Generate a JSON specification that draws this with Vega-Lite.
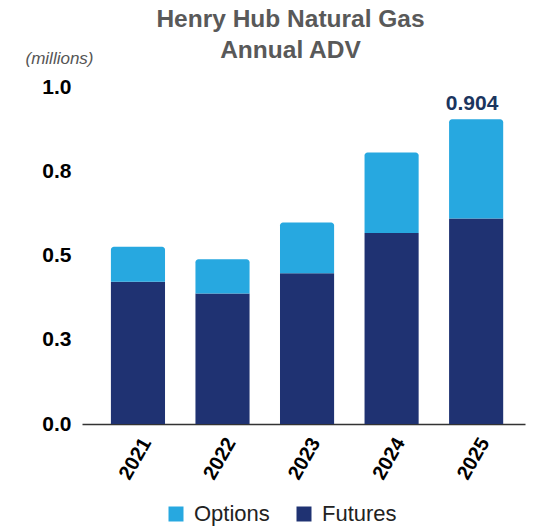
{
  "$schema": "https://vega.github.io/schema/vega-lite/v6.json",
  "width": 443,
  "height": 337,
  "autosize": "none",
  "padding": {"left": 82, "top": 87, "right": 9, "bottom": 102},
  "background": "white",
  "config": {"font": "Liberation Sans", "view": {"stroke": null}},
  "title": {
    "text": ["Henry Hub Natural Gas", "Annual ADV"],
    "fontSize": 24.5,
    "fontWeight": "bold",
    "color": "#595959",
    "lineHeight": 30.5,
    "anchor": "middle",
    "dx": -13,
    "offset": -14
  },
  "data": {
    "values": [
      {"year": "2021", "series": "Futures", "value": 0.422},
      {"year": "2021", "series": "Options", "value": 0.104},
      {"year": "2022", "series": "Futures", "value": 0.387},
      {"year": "2022", "series": "Options", "value": 0.102},
      {"year": "2023", "series": "Futures", "value": 0.447},
      {"year": "2023", "series": "Options", "value": 0.151},
      {"year": "2024", "series": "Futures", "value": 0.567},
      {"year": "2024", "series": "Options", "value": 0.239},
      {"year": "2025", "series": "Futures", "value": 0.610},
      {"year": "2025", "series": "Options", "value": 0.294}
    ]
  },
  "transform": [
    {"stack": "value", "groupby": ["year"], "sort": [{"field": "series", "order": "ascending"}], "as": ["v0", "v1"]}
  ],
  "encoding": {
    "x": {
      "field": "year",
      "type": "nominal",
      "scale": {"paddingInner": 0.36, "paddingOuter": 0.3, "align": 0.57},
      "axis": {
        "title": null,
        "labelAngle": -60,
        "labelAlign": "right",
        "labelBaseline": "top",
        "labelFontSize": 20,
        "labelFontWeight": "bold",
        "labelColor": "#000000",
        "ticks": false,
        "domainColor": "#333333",
        "domainWidth": 1.5,
        "labelPadding": 10
      }
    }
  },
  "layer": [
    {
      "transform": [{"filter": "datum.series === 'Futures'"}],
      "mark": {"type": "bar"},
      "encoding": {
        "y": {
          "field": "v1",
          "type": "quantitative",
          "scale": {"domain": [0, 1], "nice": false},
          "axis": {
            "values": [0, 0.25, 0.5, 0.75, 1],
            "format": ".1f",
            "domain": false,
            "ticks": false,
            "grid": false,
            "labelFontSize": 21,
            "labelFontWeight": "bold",
            "labelColor": "#000000",
            "labelPadding": 11,
            "title": "(millions)",
            "titleAngle": 0,
            "titleFontStyle": "italic",
            "titleFontWeight": "normal",
            "titleFontSize": 17,
            "titleColor": "#555555",
            "titleAlign": "left",
            "titleBaseline": "alphabetic",
            "titleX": -57,
            "titleY": -24
          }
        },
        "y2": {"field": "v0"},
        "color": {
          "field": "series",
          "type": "nominal",
          "scale": {"domain": ["Options", "Futures"], "range": ["#27A8E0", "#1F3272"]},
          "legend": {
            "title": null,
            "orient": "none",
            "legendX": 83,
            "legendY": 416,
            "direction": "horizontal",
            "symbolType": "square",
            "symbolSize": 225,
            "symbolStrokeWidth": 0,
            "labelFontSize": 22,
            "labelColor": "#222222",
            "columnPadding": 23,
            "labelOffset": 7
          }
        }
      }
    },
    {
      "transform": [{"filter": "datum.series === 'Options'"}],
      "mark": {"type": "bar", "cornerRadiusTopLeft": 3, "cornerRadiusTopRight": 3},
      "encoding": {
        "y": {"field": "v1", "type": "quantitative"},
        "y2": {"field": "v0"},
        "color": {"field": "series", "type": "nominal"}
      }
    },
    {
      "transform": [
        {"aggregate": [{"op": "sum", "field": "value", "as": "total"}], "groupby": ["year"]},
        {"filter": "datum.year === '2025'"}
      ],
      "mark": {"type": "text", "fontSize": 21, "fontWeight": "bold", "color": "#1B355E", "baseline": "alphabetic", "dx": -4, "dy": -9},
      "encoding": {
        "y": {"field": "total", "type": "quantitative"},
        "text": {"field": "total", "type": "quantitative", "format": ".3f"}
      }
    }
  ]
}
